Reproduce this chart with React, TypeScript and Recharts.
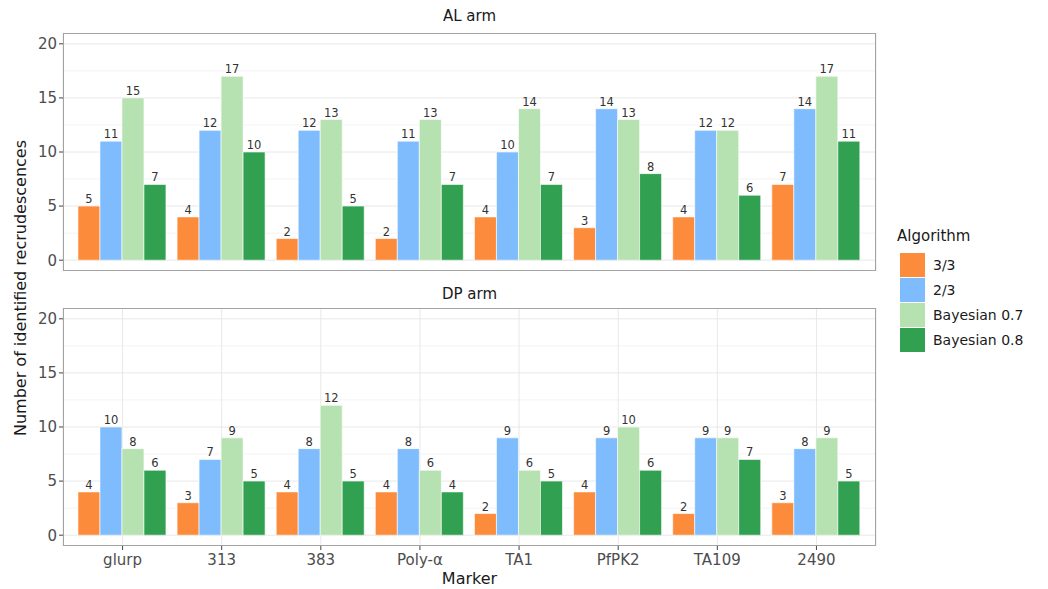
import React from "react";
import { Bar, BarChart, CartesianGrid, LabelList, XAxis, YAxis } from "recharts";

const markers = ["glurp", "313", "383", "Poly-α", "TA1", "PfPK2", "TA109", "2490"];
const algorithms = ["3/3", "2/3", "Bayesian 0.7", "Bayesian 0.8"];
const colors = ["#fd8b3c", "#7fbcfd", "#b6e1b0", "#31a151"];

// AL arm, one array per algorithm (in marker order)
const al33 = [5, 4, 2, 2, 4, 3, 4, 7];
const al23 = [11, 12, 12, 11, 10, 14, 12, 14];
const al07 = [15, 17, 13, 13, 14, 13, 12, 17];
const al08 = [7, 10, 5, 7, 7, 8, 6, 11];

// DP arm
const dp33 = [4, 3, 4, 4, 2, 4, 2, 3];
const dp23 = [10, 7, 8, 8, 9, 9, 9, 8];
const dp07 = [8, 9, 12, 6, 6, 10, 9, 9];
const dp08 = [6, 5, 5, 4, 5, 6, 7, 5];

const majorTicks = [0, 5, 10, 15, 20];
const minorTicks = [2.5, 7.5, 12.5, 17.5];

const buildRows = (series: number[][]) =>
  markers.map((m, i) => {
    const row: Record<string, string | number> = { marker: m };
    series.forEach((s, j) => {
      row["s" + j] = s[i];
    });
    return row;
  });

const alRows = buildRows([al33, al23, al07, al08]);
const dpRows = buildRows([dp33, dp23, dp07, dp08]);

const FONT = "DejaVu Sans, Verdana, sans-serif";
const PLOT_LEFT = 63;
const PLOT_W = 813;

function Panel({ rows, top, height, margin, showX }: any) {
  return (
    <div style={{ position: "absolute", left: 0, top, width: 1048, height }}>
      <BarChart
        width={1048}
        height={height}
        data={rows}
        margin={margin}
        barCategoryGap="5%"
        barGap={0}
      >
        <CartesianGrid stroke="#f3f3f3" horizontalValues={minorTicks} vertical={false} />
        <CartesianGrid stroke="#e8e8e8" horizontalValues={majorTicks} />
        <XAxis
          dataKey="marker"
          padding={{ left: 10, right: 10 }}
          height={showX ? 43 : 0}
          tick={showX ? { fontSize: 15, fill: "#4d4d4d", fontFamily: FONT } : false}
          tickLine={showX ? { stroke: "#444" } : false}
          tickSize={4}
          tickMargin={4}
          axisLine={false}
          interval={0}
          label={
            showX
              ? { value: "Marker", position: "insideBottom", offset: 5, fontSize: 16, fill: "#1a1a1a", fontFamily: FONT }
              : undefined
          }
        />
        <YAxis
          width={PLOT_LEFT}
          domain={[-1, 21]}
          ticks={majorTicks}
          allowDataOverflow
          tick={{ fontSize: 15, fill: "#4d4d4d", fontFamily: FONT }}
          tickLine={{ stroke: "#444" }}
          tickSize={4}
          tickMargin={2}
          axisLine={false}
        />
        {algorithms.map((a, j) => (
          <Bar
            key={a}
            dataKey={"s" + j}
            name={a}
            fill={colors[j]}
            stroke="#ffffff"
            strokeWidth={0.6}
            isAnimationActive={false}
          >
            <LabelList
              dataKey={"s" + j}
              position="top"
              offset={3}
              style={{ fontSize: 11.5, fill: "#333", fontFamily: FONT }}
            />
          </Bar>
        ))}
      </BarChart>
    </div>
  );
}

export default function App() {
  const border = (top: number) => (
    <div
      style={{
        position: "absolute",
        left: PLOT_LEFT,
        top,
        width: PLOT_W,
        height: 238,
        border: "1px solid #a3a3a3",
        boxSizing: "border-box",
        pointerEvents: "none",
      }}
    />
  );
  const title = (text: string, top: number) => (
    <div
      style={{
        position: "absolute",
        left: PLOT_LEFT,
        width: PLOT_W,
        top,
        textAlign: "center",
        fontSize: 15,
        color: "#1a1a1a",
      }}
    >
      {text}
    </div>
  );
  return (
    <div
      style={{
        position: "absolute",
        left: 0,
        top: 0,
        width: 1048,
        height: 589,
        background: "#fff",
        fontFamily: FONT,
        overflow: "hidden",
      }}
    >
      <Panel rows={alRows} top={0} height={280} margin={{ top: 33, right: 172, bottom: 9, left: 0 }} showX={false} />
      <Panel rows={dpRows} top={280} height={309} margin={{ top: 28, right: 172, bottom: 0, left: 0 }} showX={true} />
      {border(33)}
      {border(308)}
      {title("AL arm", 7)}
      {title("DP arm", 285)}
      <div
        style={{
          position: "absolute",
          left: 20,
          top: 288,
          transform: "translate(-50%, -50%) rotate(-90deg)",
          whiteSpace: "nowrap",
          fontSize: 16,
          color: "#1a1a1a",
        }}
      >
        Number of identified recrudescences
      </div>
      <div style={{ position: "absolute", left: 897, top: 227, fontSize: 15, color: "#1a1a1a" }}>Algorithm</div>
      {algorithms.map((a, j) => (
        <div
          key={a}
          style={{ position: "absolute", left: 900, top: 252 + j * 25, height: 25, display: "flex", alignItems: "center" }}
        >
          <div style={{ width: 25, height: 24, background: colors[j], marginRight: 8 }} />
          <span style={{ fontSize: 14, color: "#1a1a1a" }}>{a}</span>
        </div>
      ))}
    </div>
  );
}
